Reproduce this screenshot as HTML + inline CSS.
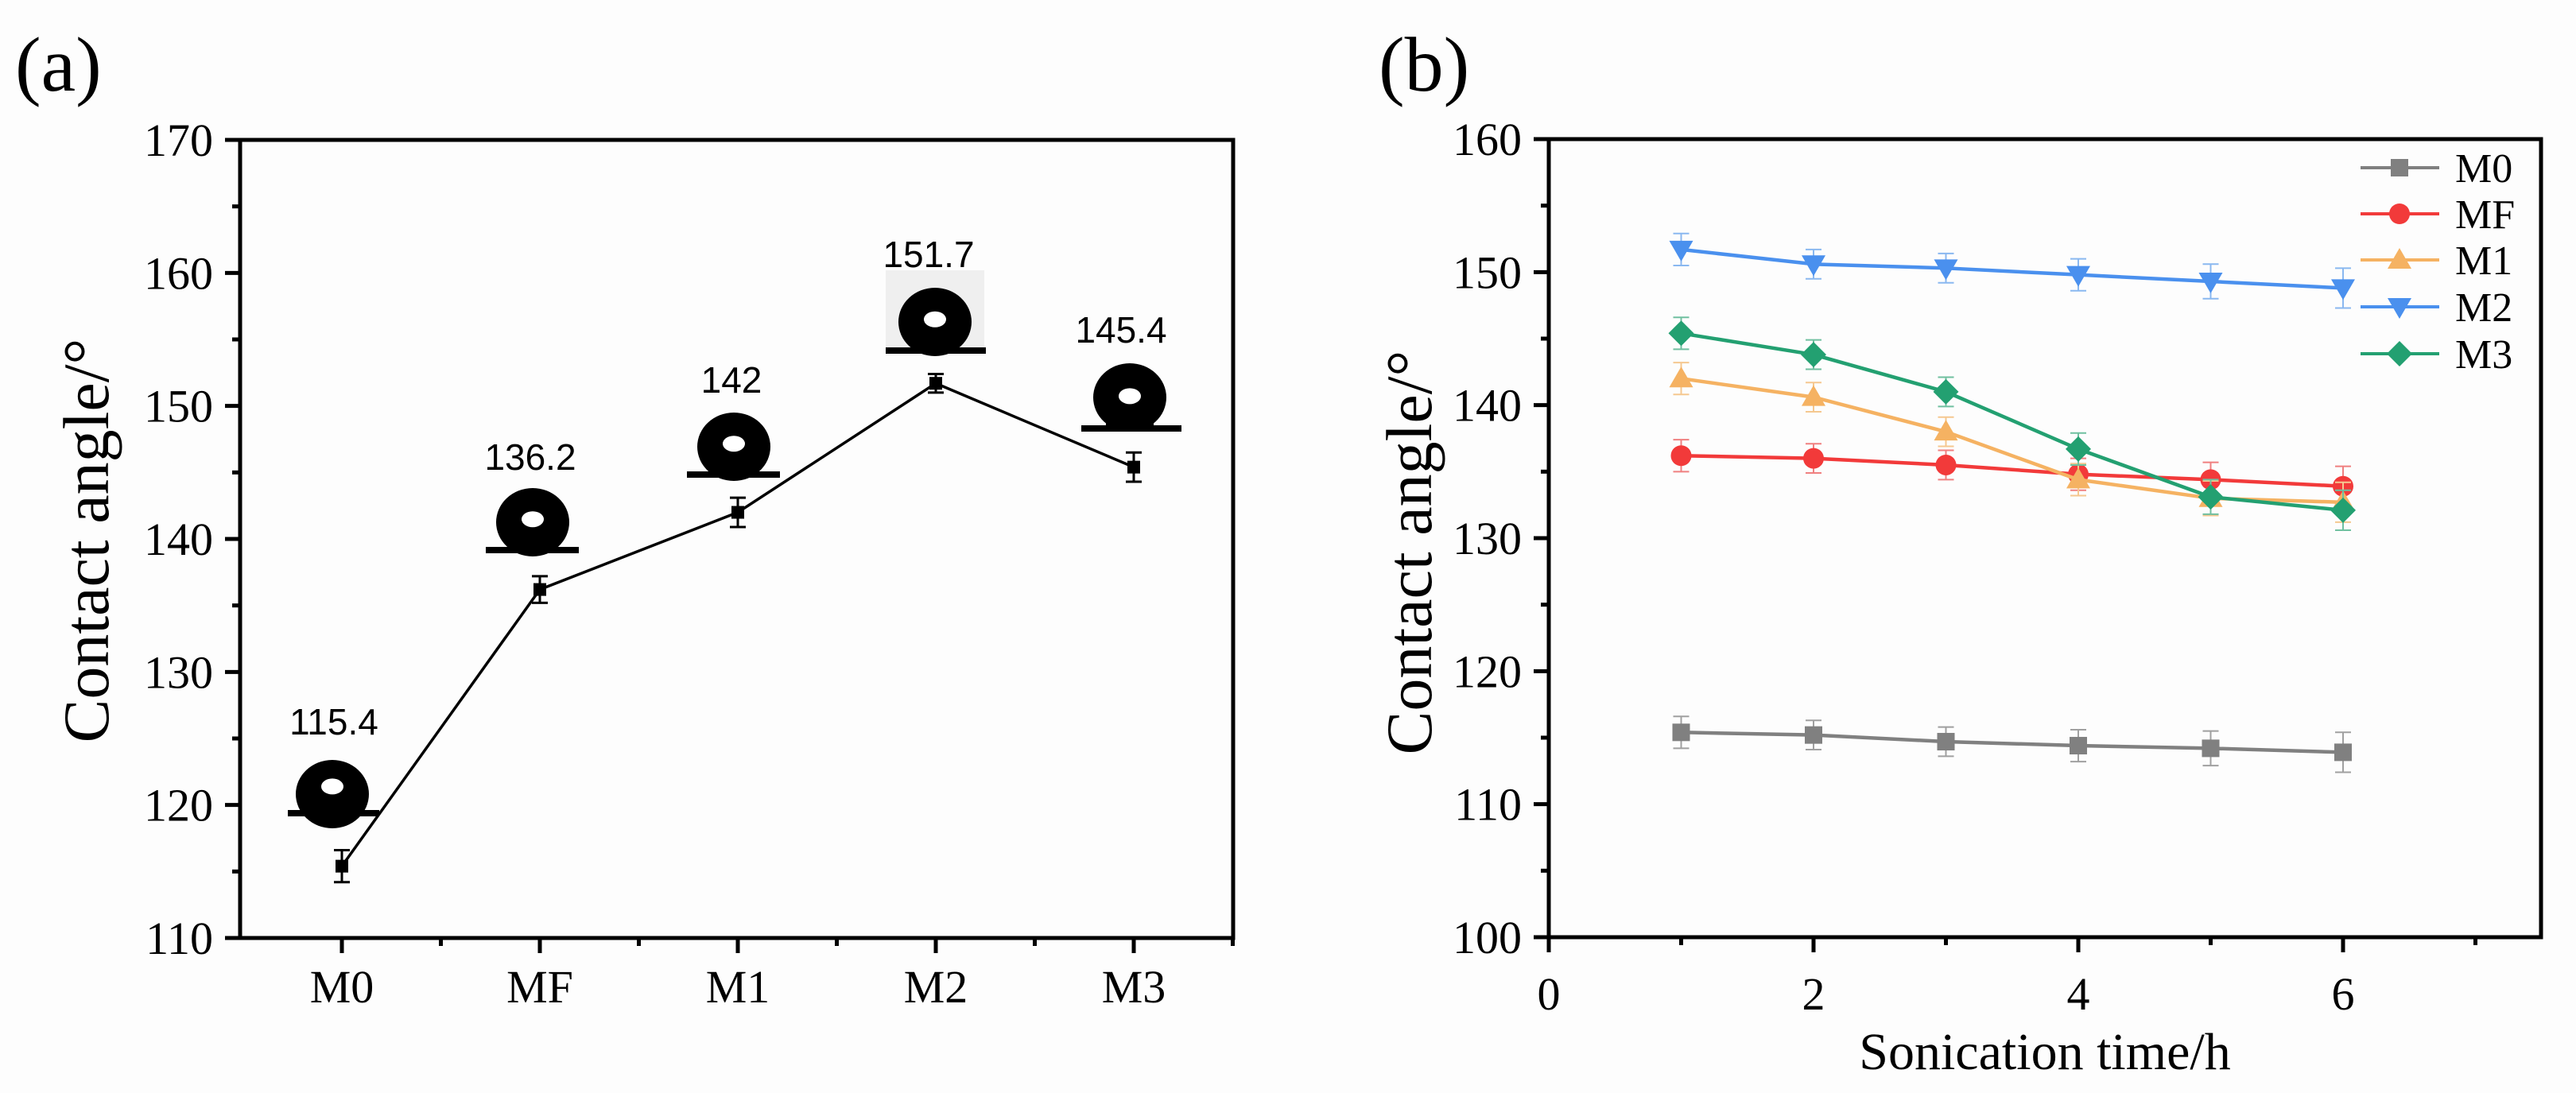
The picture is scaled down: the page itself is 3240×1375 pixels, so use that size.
<!DOCTYPE html>
<html><head><meta charset="utf-8"><style>
html,body{margin:0;padding:0;background:#fdfdfd;}
svg{display:block;}
.serif{font-family:"Liberation Serif","Times New Roman",serif;fill:#000;}
.sans{font-family:"Liberation Sans",Arial,sans-serif;fill:#000;}
</style></head><body>
<svg id="chart" width="3240" height="1375" viewBox="0 0 3240 1375" xmlns="http://www.w3.org/2000/svg">
<rect x="0" y="0" width="3240" height="1375" fill="#fdfdfd"/>
<g id="pa"></g>
<g id="pb"></g>
</svg>
<script>
// ---- Panel (a) data ----
const catsA = ["M0","MF","M1","M2","M3"];
const valsA = [115.4, 136.2, 142, 151.7, 145.4];
const errA = [1.2, 1.0, 1.1, 0.7, 1.1];
const labelsA = ["115.4","136.2","142","151.7","145.4"];
const yTicksA = [110,120,130,140,150,160,170];
// ---- Panel (b) data ----
const timesB = [1,2,3,4,5,6];
const xTicksB = [0,2,4,6];
const yTicksB = [100,110,120,130,140,150,160];
const namesB = ["M0","MF","M1","M2","M3"];
const m0B = [115.4,115.2,114.7,114.4,114.2,113.9];
const mfB = [136.2,136.0,135.5,134.8,134.4,133.9];
const m1B = [142.0,140.6,138.0,134.4,133.0,132.7];
const m2B = [151.7,150.6,150.3,149.8,149.3,148.8];
const m3B = [145.4,143.8,141.0,136.7,133.1,132.1];
const errB = [1.2,1.1,1.1,1.2,1.3,1.5];

const NS="http://www.w3.org/2000/svg";
function mk(parent, tag, attrs, text){
  const e=document.createElementNS(NS,tag);
  for(const k in attrs) e.setAttribute(k, attrs[k]);
  if(text!==undefined) e.textContent=text;
  parent.appendChild(e); return e;
}
const pa=document.getElementById('pa');
const pb=document.getElementById('pb');

// ---------- Panel A ----------
const A={l:302,r:1551,t:176,b:1180,x0:430,dx:249,ymin:110,ymax:170};
const xa=i=>A.x0+i*A.dx;
const ya=v=>A.t+(A.ymax-v)*(A.b-A.t)/(A.ymax-A.ymin);

let t=mk(pa,'text',{x:19,y:114,class:'serif','font-size':98});
t.textContent='(a)';



let fr=mk(pa,'rect',{x:A.l,y:A.t,width:A.r-A.l,height:A.b-A.t,fill:'none',stroke:'#000','stroke-width':5});



yTicksA.forEach((v,i)=>{
  const y=ya(v);
  const tk=mk(pa,'line',{x1:A.l-19,x2:A.l,y1:y,y2:y,stroke:'#000','stroke-width':5});
  
  
  const lb=mk(pa,'text',{x:A.l-34,y:y+20,class:'serif','font-size':58,'text-anchor':'end'},String(v));
  
  
  if(i<yTicksA.length-1){
    const ym=ya(v+5);
    const mt=mk(pa,'line',{x1:A.l-10,x2:A.l,y1:ym,y2:ym,stroke:'#000','stroke-width':5});
    
    
  }
});
catsA.forEach((c,i)=>{
  const x=xa(i);
  const tk=mk(pa,'line',{x1:x,x2:x,y1:A.b,y2:A.b+19,stroke:'#000','stroke-width':5});
  
  
  const lb=mk(pa,'text',{x:x,y:1261,class:'serif','font-size':58,'text-anchor':'middle'},c);
  
  
  const xm=x+A.dx/2;
  const mt=mk(pa,'line',{x1:xm,x2:xm,y1:A.b,y2:A.b+10,stroke:'#000','stroke-width':5});
  
  
});
let yt=mk(pa,'text',{x:0,y:0,class:'serif','font-size':82,'text-anchor':'middle',transform:'translate(136,680) rotate(-90)'},'Contact angle/°');



const drops=[{cx:418,top:956,bx1:362,bx2:477,by:1019},{cx:670,top:614,bx1:611,bx2:728,by:688},{cx:923,top:519,bx1:864,bx2:981,by:593},{cx:1176,top:362,bx1:1114,bx2:1240,by:437},{cx:1421,top:457,bx1:1360,bx2:1486,by:535}];
drops.forEach((d,i)=>{
  const g=mk(pa,'g',{});
  
  
  if(i===3) mk(g,'rect',{x:1114,y:340,width:124,height:107,fill:'#efefef'});
  const h=d.by-d.top;
  mk(g,'ellipse',{cx:d.cx,cy:d.top+43,rx:46,ry:43,fill:'#000'});
  mk(g,'rect',{x:d.cx-30,y:d.top+43,width:60,height:h-43,fill:'#000'});
  mk(g,'ellipse',{cx:d.cx,cy:d.top+h*0.53,rx:14,ry:10,fill:'#fff'});
  mk(g,'rect',{x:d.bx1,y:d.by,width:d.bx2-d.bx1,height:8,fill:'#000'});
});

let pts=valsA.map((v,i)=>xa(i)+','+ya(v)).join(' ');
let pl=mk(pa,'polyline',{points:pts,fill:'none',stroke:'#000','stroke-width':3.5});


valsA.forEach((v,i)=>{
  const x=xa(i),y=ya(v),e=errA[i];
  const g=mk(pa,'g',{});
  
  
  mk(g,'line',{x1:x,x2:x,y1:ya(v+e),y2:ya(v-e),stroke:'#000','stroke-width':3});
  mk(g,'line',{x1:x-10,x2:x+10,y1:ya(v+e),y2:ya(v+e),stroke:'#000','stroke-width':3});
  mk(g,'line',{x1:x-10,x2:x+10,y1:ya(v-e),y2:ya(v-e),stroke:'#000','stroke-width':3});
  mk(g,'rect',{x:x-8,y:y-8,width:16,height:16,fill:'#000'});
});
const labPos=[[420,908],[667,575],[920,478],[1168,320],[1410,415]];
labelsA.forEach((s,i)=>{
  const lb=mk(pa,'text',{x:labPos[i][0],y:labPos[i][1]+16,class:'sans','font-size':46,'text-anchor':'middle'},s);
  
  
});

// ---------- Panel B ----------
const B={l:1948,r:3196,t:175,b:1179,xunit:166.5,ymin:100,ymax:160};
const xb=v=>B.l+v*B.xunit;
const yb=v=>B.t+(B.ymax-v)*(B.b-B.t)/(B.ymax-B.ymin);

t=mk(pb,'text',{x:1734,y:114,class:'serif','font-size':98});
t.textContent='(b)';



fr=mk(pb,'rect',{x:B.l,y:B.t,width:B.r-B.l,height:B.b-B.t,fill:'none',stroke:'#000','stroke-width':5});



yTicksB.forEach((v,i)=>{
  const y=yb(v);
  const tk=mk(pb,'line',{x1:B.l-19,x2:B.l,y1:y,y2:y,stroke:'#000','stroke-width':5});
  
  
  const lb=mk(pb,'text',{x:B.l-34,y:y+20,class:'serif','font-size':58,'text-anchor':'end'},String(v));
  
  
  if(i<yTicksB.length-1){
    const ym=yb(v+5);
    const mt=mk(pb,'line',{x1:B.l-10,x2:B.l,y1:ym,y2:ym,stroke:'#000','stroke-width':5});
    
    
  }
});
xTicksB.forEach(v=>{
  const x=xb(v);
  const tk=mk(pb,'line',{x1:x,x2:x,y1:B.b,y2:B.b+19,stroke:'#000','stroke-width':5});
  
  
  const lb=mk(pb,'text',{x:x,y:1270,class:'serif','font-size':58,'text-anchor':'middle'},String(v));
  
  
  const xm=xb(v+1);
  const mt=mk(pb,'line',{x1:xm,x2:xm,y1:B.b,y2:B.b+10,stroke:'#000','stroke-width':5});
  
  
});
let xt=mk(pb,'text',{x:2572,y:1345,class:'serif','font-size':66,'text-anchor':'middle'},'Sonication time/h');


yt=mk(pb,'text',{x:0,y:0,class:'serif','font-size':82,'text-anchor':'middle',transform:'translate(1800,695) rotate(-90)'},'Contact angle/°');



const seriesB=[m0B,mfB,m1B,m2B,m3B];
const colorsB=['#808080','#f23a3a','#f5b262','#4a90ee','#23a071'];
const errColB=['#a0a0a0','#f08080','#f5c890','#8ab8f0','#70c0a0'];
const shapesB=['square','circle','up','down','diamond'];
function marker(g,shape,x,y,c){
  if(shape==='square') mk(g,'rect',{x:x-11,y:y-11,width:22,height:22,fill:c});
  else if(shape==='circle') mk(g,'circle',{cx:x,cy:y,r:13,fill:c});
  else if(shape==='up') mk(g,'polygon',{points:`${x},${y-15} ${x+15},${y+11} ${x-15},${y+11}`,fill:c});
  else if(shape==='down') mk(g,'polygon',{points:`${x},${y+15} ${x+15},${y-11} ${x-15},${y-11}`,fill:c});
  else mk(g,'polygon',{points:`${x},${y-16} ${x+16},${y} ${x},${y+16} ${x-16},${y}`,fill:c});
}
seriesB.forEach((vals,si)=>{
  const g=mk(pb,'g',{});
  
  
  vals.forEach((v,i)=>{
    const x=xb(timesB[i]),e=errB[i];
    mk(g,'line',{x1:x,x2:x,y1:yb(v+e),y2:yb(v-e),stroke:errColB[si],'stroke-width':2});
    mk(g,'line',{x1:x-10,x2:x+10,y1:yb(v+e),y2:yb(v+e),stroke:errColB[si],'stroke-width':2});
    mk(g,'line',{x1:x-10,x2:x+10,y1:yb(v-e),y2:yb(v-e),stroke:errColB[si],'stroke-width':2});
  });
  mk(g,'polyline',{points:vals.map((v,i)=>xb(timesB[i])+','+yb(v)).join(' '),fill:'none',stroke:colorsB[si],'stroke-width':4.5});
  vals.forEach((v,i)=>marker(g,shapesB[si],xb(timesB[i]),yb(v),colorsB[si]));
});
const legY=[211,269,327,386,445];
namesB.forEach((n,i)=>{
  const g=mk(pb,'g',{});
  
  
  mk(g,'line',{x1:2969,x2:3068,y1:legY[i],y2:legY[i],stroke:colorsB[i],'stroke-width':4});
  marker(g,shapesB[i],3018,legY[i],colorsB[i]);
  mk(g,'text',{x:3088,y:legY[i]+18,class:'serif','font-size':52},n);
});
</script>
</body></html>
